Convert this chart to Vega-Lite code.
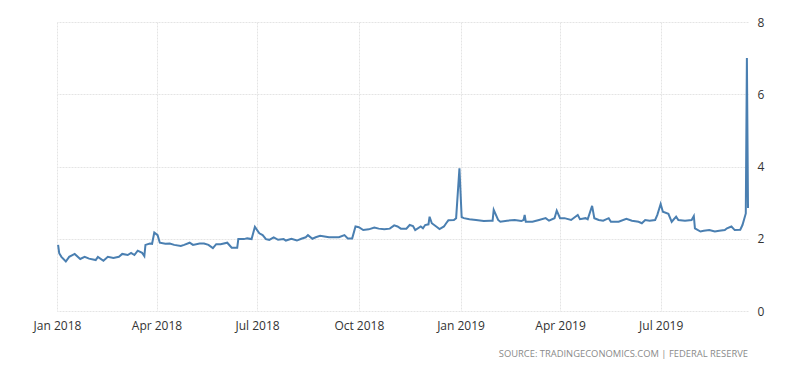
{
  "$schema": "https://vega.github.io/schema/vega-lite/v6.json",
  "width": 691,
  "height": 289,
  "autosize": {"type": "none"},
  "padding": {"left": 57, "top": 22, "right": 52, "bottom": 62},
  "background": "white",
  "config": {"view": {"stroke": null}, "font": "Open Sans"},
  "title": {"text": "SOURCE: TRADINGECONOMICS.COM | FEDERAL RESERVE", "orient": "bottom", "anchor": "end", "frame": "group", "fontSize": 9.4, "fontWeight": "normal", "color": "#8a8a8a", "offset": 19, "font": "Open Sans"},
  "data": {"values": [
    {"date": "2018-01-02", "rate": 1.83},
    {"date": "2018-01-03", "rate": 1.60},
    {"date": "2018-01-05", "rate": 1.50},
    {"date": "2018-01-09", "rate": 1.37},
    {"date": "2018-01-12", "rate": 1.50},
    {"date": "2018-01-17", "rate": 1.58},
    {"date": "2018-01-22", "rate": 1.44},
    {"date": "2018-01-26", "rate": 1.50},
    {"date": "2018-01-30", "rate": 1.45},
    {"date": "2018-02-05", "rate": 1.41},
    {"date": "2018-02-07", "rate": 1.50},
    {"date": "2018-02-12", "rate": 1.39},
    {"date": "2018-02-16", "rate": 1.50},
    {"date": "2018-02-21", "rate": 1.47},
    {"date": "2018-02-26", "rate": 1.50},
    {"date": "2018-03-01", "rate": 1.58},
    {"date": "2018-03-06", "rate": 1.55},
    {"date": "2018-03-09", "rate": 1.61},
    {"date": "2018-03-12", "rate": 1.55},
    {"date": "2018-03-15", "rate": 1.67},
    {"date": "2018-03-19", "rate": 1.61},
    {"date": "2018-03-21", "rate": 1.52},
    {"date": "2018-03-22", "rate": 1.83},
    {"date": "2018-03-26", "rate": 1.87},
    {"date": "2018-03-28", "rate": 1.86},
    {"date": "2018-03-30", "rate": 2.17},
    {"date": "2018-04-02", "rate": 2.10},
    {"date": "2018-04-04", "rate": 1.89},
    {"date": "2018-04-09", "rate": 1.86},
    {"date": "2018-04-13", "rate": 1.87},
    {"date": "2018-04-17", "rate": 1.83},
    {"date": "2018-04-23", "rate": 1.80},
    {"date": "2018-04-26", "rate": 1.83},
    {"date": "2018-05-01", "rate": 1.89},
    {"date": "2018-05-04", "rate": 1.83},
    {"date": "2018-05-10", "rate": 1.87},
    {"date": "2018-05-14", "rate": 1.87},
    {"date": "2018-05-18", "rate": 1.83},
    {"date": "2018-05-22", "rate": 1.74},
    {"date": "2018-05-25", "rate": 1.85},
    {"date": "2018-05-29", "rate": 1.85},
    {"date": "2018-06-04", "rate": 1.89},
    {"date": "2018-06-08", "rate": 1.75},
    {"date": "2018-06-13", "rate": 1.75},
    {"date": "2018-06-14", "rate": 1.99},
    {"date": "2018-06-19", "rate": 1.99},
    {"date": "2018-06-22", "rate": 2.01},
    {"date": "2018-06-26", "rate": 1.99},
    {"date": "2018-06-29", "rate": 2.33},
    {"date": "2018-07-03", "rate": 2.15},
    {"date": "2018-07-06", "rate": 2.10},
    {"date": "2018-07-09", "rate": 1.99},
    {"date": "2018-07-12", "rate": 1.97},
    {"date": "2018-07-16", "rate": 2.04},
    {"date": "2018-07-20", "rate": 1.97},
    {"date": "2018-07-25", "rate": 1.99},
    {"date": "2018-07-27", "rate": 1.95},
    {"date": "2018-08-01", "rate": 2.00},
    {"date": "2018-08-06", "rate": 1.95},
    {"date": "2018-08-10", "rate": 2.00},
    {"date": "2018-08-14", "rate": 2.04},
    {"date": "2018-08-16", "rate": 2.10},
    {"date": "2018-08-20", "rate": 2.00},
    {"date": "2018-08-23", "rate": 2.04},
    {"date": "2018-08-27", "rate": 2.08},
    {"date": "2018-08-31", "rate": 2.06},
    {"date": "2018-09-04", "rate": 2.04},
    {"date": "2018-09-10", "rate": 2.04},
    {"date": "2018-09-13", "rate": 2.04},
    {"date": "2018-09-18", "rate": 2.10},
    {"date": "2018-09-21", "rate": 2.01},
    {"date": "2018-09-25", "rate": 2.01},
    {"date": "2018-09-28", "rate": 2.34},
    {"date": "2018-10-01", "rate": 2.32},
    {"date": "2018-10-05", "rate": 2.24},
    {"date": "2018-10-10", "rate": 2.26},
    {"date": "2018-10-15", "rate": 2.31},
    {"date": "2018-10-19", "rate": 2.28},
    {"date": "2018-10-24", "rate": 2.26},
    {"date": "2018-10-29", "rate": 2.28},
    {"date": "2018-11-02", "rate": 2.37},
    {"date": "2018-11-05", "rate": 2.34},
    {"date": "2018-11-08", "rate": 2.28},
    {"date": "2018-11-13", "rate": 2.28},
    {"date": "2018-11-16", "rate": 2.38},
    {"date": "2018-11-19", "rate": 2.35},
    {"date": "2018-11-21", "rate": 2.24},
    {"date": "2018-11-26", "rate": 2.34},
    {"date": "2018-11-28", "rate": 2.29},
    {"date": "2018-11-30", "rate": 2.38},
    {"date": "2018-12-03", "rate": 2.40},
    {"date": "2018-12-04", "rate": 2.61},
    {"date": "2018-12-06", "rate": 2.43},
    {"date": "2018-12-10", "rate": 2.34},
    {"date": "2018-12-13", "rate": 2.27},
    {"date": "2018-12-17", "rate": 2.34},
    {"date": "2018-12-19", "rate": 2.43},
    {"date": "2018-12-21", "rate": 2.51},
    {"date": "2018-12-26", "rate": 2.52},
    {"date": "2018-12-28", "rate": 2.57},
    {"date": "2018-12-31", "rate": 3.95},
    {"date": "2019-01-02", "rate": 2.60},
    {"date": "2019-01-04", "rate": 2.57},
    {"date": "2019-01-09", "rate": 2.54},
    {"date": "2019-01-15", "rate": 2.52},
    {"date": "2019-01-22", "rate": 2.49},
    {"date": "2019-01-28", "rate": 2.50},
    {"date": "2019-01-30", "rate": 2.50},
    {"date": "2019-01-31", "rate": 2.80},
    {"date": "2019-02-04", "rate": 2.52},
    {"date": "2019-02-06", "rate": 2.47},
    {"date": "2019-02-12", "rate": 2.50},
    {"date": "2019-02-19", "rate": 2.52},
    {"date": "2019-02-25", "rate": 2.49},
    {"date": "2019-02-27", "rate": 2.52},
    {"date": "2019-02-28", "rate": 2.66},
    {"date": "2019-03-01", "rate": 2.47},
    {"date": "2019-03-07", "rate": 2.47},
    {"date": "2019-03-13", "rate": 2.52},
    {"date": "2019-03-19", "rate": 2.57},
    {"date": "2019-03-22", "rate": 2.50},
    {"date": "2019-03-27", "rate": 2.57},
    {"date": "2019-03-29", "rate": 2.78},
    {"date": "2019-04-01", "rate": 2.57},
    {"date": "2019-04-05", "rate": 2.57},
    {"date": "2019-04-11", "rate": 2.52},
    {"date": "2019-04-17", "rate": 2.66},
    {"date": "2019-04-19", "rate": 2.54},
    {"date": "2019-04-24", "rate": 2.57},
    {"date": "2019-04-26", "rate": 2.54},
    {"date": "2019-04-30", "rate": 2.91},
    {"date": "2019-05-02", "rate": 2.57},
    {"date": "2019-05-06", "rate": 2.52},
    {"date": "2019-05-10", "rate": 2.50},
    {"date": "2019-05-15", "rate": 2.57},
    {"date": "2019-05-17", "rate": 2.47},
    {"date": "2019-05-24", "rate": 2.47},
    {"date": "2019-05-31", "rate": 2.55},
    {"date": "2019-06-05", "rate": 2.50},
    {"date": "2019-06-11", "rate": 2.47},
    {"date": "2019-06-14", "rate": 2.43},
    {"date": "2019-06-17", "rate": 2.52},
    {"date": "2019-06-21", "rate": 2.50},
    {"date": "2019-06-26", "rate": 2.52},
    {"date": "2019-06-28", "rate": 2.66},
    {"date": "2019-07-01", "rate": 2.96},
    {"date": "2019-07-03", "rate": 2.75},
    {"date": "2019-07-08", "rate": 2.69},
    {"date": "2019-07-11", "rate": 2.47},
    {"date": "2019-07-15", "rate": 2.61},
    {"date": "2019-07-17", "rate": 2.52},
    {"date": "2019-07-23", "rate": 2.50},
    {"date": "2019-07-29", "rate": 2.52},
    {"date": "2019-07-31", "rate": 2.63},
    {"date": "2019-08-01", "rate": 2.29},
    {"date": "2019-08-06", "rate": 2.20},
    {"date": "2019-08-09", "rate": 2.22},
    {"date": "2019-08-14", "rate": 2.24},
    {"date": "2019-08-19", "rate": 2.20},
    {"date": "2019-08-23", "rate": 2.22},
    {"date": "2019-08-28", "rate": 2.24},
    {"date": "2019-08-30", "rate": 2.29},
    {"date": "2019-09-03", "rate": 2.34},
    {"date": "2019-09-06", "rate": 2.24},
    {"date": "2019-09-11", "rate": 2.25},
    {"date": "2019-09-13", "rate": 2.38},
    {"date": "2019-09-16", "rate": 2.70},
    {"date": "2019-09-17", "rate": 7.00},
    {"date": "2019-09-18", "rate": 2.85}
  ]},
  "mark": {"type": "line", "color": "#4a7fb1", "strokeWidth": 2, "interpolate": "linear"},
  "encoding": {
    "x": {
      "field": "date", "type": "temporal",
      "scale": {"domain": [{"year": 2018, "month": 1, "date": 1}, {"year": 2019, "month": 9, "date": 18}]},
      "axis": {
        "title": null,
        "values": [{"year": 2018, "month": 1, "date": 1}, {"year": 2018, "month": 4, "date": 1}, {"year": 2018, "month": 7, "date": 1}, {"year": 2018, "month": 10, "date": 1}, {"year": 2019, "month": 1, "date": 1}, {"year": 2019, "month": 4, "date": 1}, {"year": 2019, "month": 7, "date": 1}],
        "format": "%b %Y",
        "domain": false, "ticks": false,
        "labelFlush": false, "labelOverlap": false, "labelBound": false,
        "grid": true, "gridColor": "#e4e4e4", "gridDash": [2, 1], "gridWidth": 1,
        "labelFontSize": 12, "labelColor": "#333333", "labelPadding": 9, "labelFont": "Open Sans"
      }
    },
    "y": {
      "field": "rate", "type": "quantitative",
      "scale": {"domain": [0, 8]},
      "axis": {
        "orient": "right", "title": null,
        "values": [0, 2, 4, 6, 8],
        "domain": false, "ticks": false,
        "grid": true, "gridColor": "#e4e4e4", "gridDash": [2, 1], "gridWidth": 1,
        "labelFontSize": 12, "labelColor": "#333333", "labelPadding": 9, "labelFont": "Open Sans"
      }
    }
  }
}
